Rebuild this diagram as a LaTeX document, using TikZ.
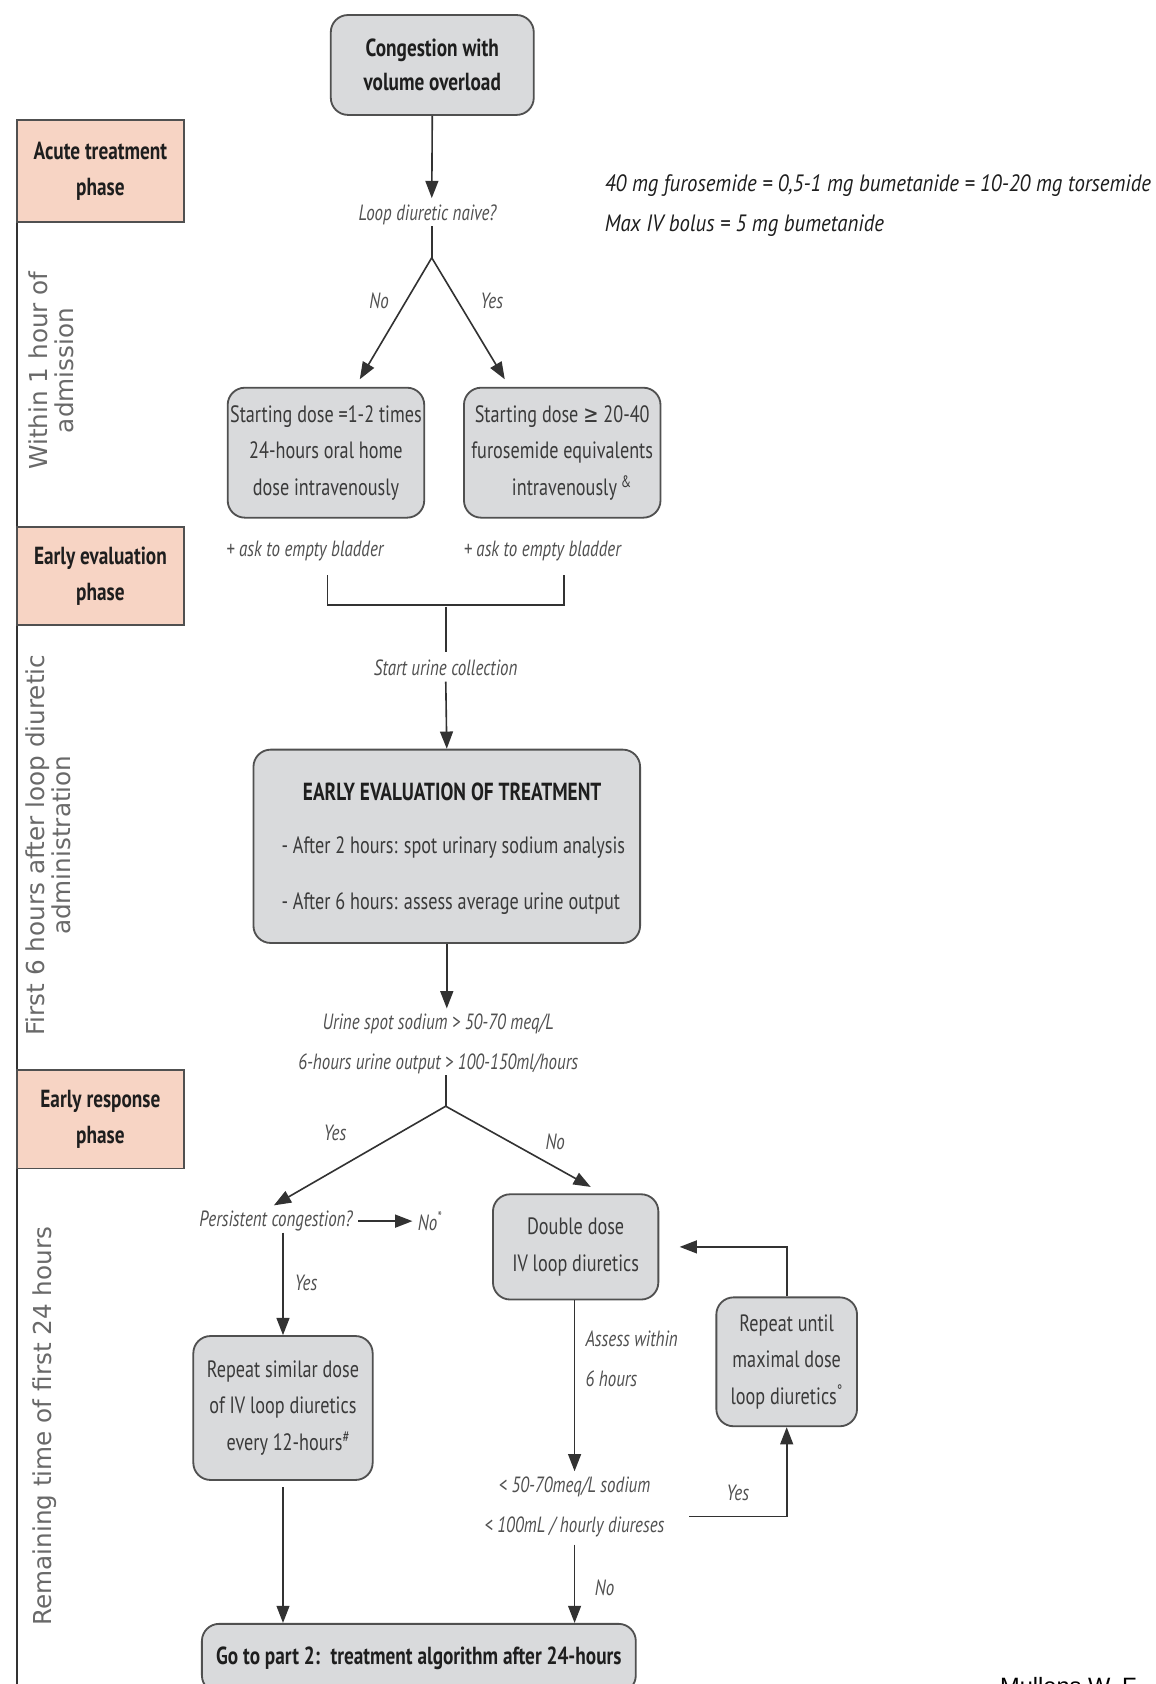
\documentclass[tikz,border=0pt]{standalone}
\usepackage{fontspec}
\usetikzlibrary{arrows.meta}
\newfontfamily\cond[FakeStretch=0.77]{PT Sans}
\newfontfamily\condb[FakeStretch=0.78]{PT Sans}
\newfontfamily\notefont[FakeStretch=0.88]{PT Sans}
\newfontfamily\sidefont{DejaVu Sans}
\newfontfamily\symfont[FakeStretch=0.77]{DejaVu Sans}
\newfontfamily\credit{Liberation Sans}
\definecolor{edge}{RGB}{80,80,80}
\definecolor{boxfill}{RGB}{217,218,220}
\definecolor{peach}{RGB}{247,212,196}
\definecolor{ink}{RGB}{58,58,58}
\definecolor{dark}{RGB}{30,30,30}
\definecolor{labink}{RGB}{80,80,80}
\definecolor{sidegray}{RGB}{105,105,105}
\definecolor{lineclr}{RGB}{50,50,50}
\tikzset{
  box/.style={draw=edge, fill=boxfill, rounded corners=16pt, line width=1.7pt,
    inner sep=0pt, align=center, text=ink, font=\cond\fontsize{22}{34}\selectfont},
  boldbox/.style={box, text=dark, font=\condb\bfseries\fontsize{23}{32}\selectfont},
  phasebox/.style={draw=edge, fill=peach, line width=1.7pt, inner sep=0pt,
    minimum width=155, align=center, text=dark,
    font=\condb\bfseries\fontsize{23}{34}\selectfont},
  lab/.style={inner sep=1pt, text=labink, align=center,
    font=\cond\itshape\fontsize{20.5}{37}\selectfont},
  sidetext/.style={rotate=90, inner sep=0pt, text=sidegray, align=center,
    font=\sidefont\fontsize{23}{24}\selectfont},
  note/.style={inner sep=0pt, anchor=west, text=dark,
    font=\notefont\itshape\fontsize{22}{24}\selectfont},
  conn/.style={draw=lineclr, line width=1.5pt},
  arr/.style={conn, -{Triangle[length=16pt,width=12pt]}},
}
\begin{document}
\begin{tikzpicture}[x=1pt,y=-1pt]
\useasboundingbox[fill=white] (0,0) rectangle (1076,1568);

% ---- phase column on the left
\draw[conn, line width=2pt] (16,112) -- (16,1580);
\node[phasebox, minimum height=95] (ph1) at (93.5,159.5) {Acute treatment\\phase};
\node[phasebox, minimum height=91] (ph2) at (93.5,536.5) {Early evaluation\\phase};
\node[phasebox, minimum height=92] (ph3) at (93.5,1042) {Early response\\phase};
\node[sidetext] (t1) at (48,345) {Within 1 hour of\\admission};
\node[sidetext] (t2) at (45,787) {First 6 hours after loop diuretic\\administration};
\node[sidetext] (t3) at (42,1328) {Remaining time of first 24 hours};

% ---- dose equivalence note
\node[note] (eq1) at (563,173) {40 mg furosemide = 0,5-1 mg bumetanide = 10-20 mg torsemide};
\node[note] (eq2) at (563,210) {Max IV bolus = 5 mg bumetanide};

% ---- acute treatment
\node[boldbox, minimum width=189, minimum height=93] (cong) at (402.5,60.5) {Congestion with\\volume overload};
\node[lab] (naive) at (398,200) {Loop diuretic naive?};
\coordinate (b1) at (402,240);
\node[box, minimum width=183, minimum height=121] (startL) at (303.5,421.5)
  {Starting dose =1-2 times\\24-hours oral home\\dose intravenously};
\node[box, minimum width=183, minimum height=121] (startR) at (523.5,421.5)
  {Starting dose {\symfont ≥} 20-40\\furosemide equivalents\\\hspace*{18pt}intravenously\,\textsuperscript{\&}};
\node[lab] at (353,280) {No};
\node[lab] at (458,280) {Yes};

\draw[arr, shorten >=5pt] (cong.south) -- ([xshift=4pt]naive.north);
\draw[conn] ([xshift=4pt]naive.south) -- (b1);
\draw[arr] (b1) -- ([xshift=31.5pt,yshift=7pt]startL.north);
\draw[arr] (b1) -- ([xshift=-53.5pt,yshift=7pt]startR.north);

% ---- early evaluation
\node[lab] (bladL) at (284,513) {+ ask to empty bladder};
\node[lab] (bladR) at (505,513) {+ ask to empty bladder};
\coordinate (jn) at (415,565);
\draw[conn] ([xshift=21pt,yshift=-12pt]bladL.south) |- ([xshift=20pt,yshift=-40pt]bladR.south)
  -- ([xshift=20pt,yshift=-12pt]bladR.south);
\node[lab] (urine) at (415,622) {Start urine collection};
\draw[conn, shorten >=6pt] (jn) -- (urine.north);

\node[box, minimum width=360, minimum height=180] (evalbox) at (416,788) {};
\node[inner sep=0pt, text=dark, font=\condb\bfseries\fontsize{23}{24}\selectfont] (evt) at (421,737) {EARLY EVALUATION OF TREATMENT};
\node[inner sep=0pt, anchor=west, text=ink, font=\cond\fontsize{22}{24}\selectfont] (ev1) at (262,789) {- After 2 hours: spot urinary sodium analysis};
\node[inner sep=0pt, anchor=west, text=ink, font=\cond\fontsize{22}{24}\selectfont] (ev2) at (262,841) {- After 6 hours: assess average urine output};
\draw[arr, shorten <=4pt] (urine.south) -- (evalbox.north);

\node[lab] (resp) at (408,972) {Urine spot sodium > 50-70 meq/L\\6-hours urine output > 100-150ml/hours};
\draw[arr, shorten >=4pt] (evalbox.south) -- (evalbox.south |- resp.north);

% ---- early response
\coordinate (b2) at (415,1030);
\draw[conn] (resp.south -| b2) -- (b2);
\node[lab] (persist) at (257,1137) {Persistent congestion?};
\node[lab, anchor=west] (noend) at (388,1137) {No\textsuperscript{*}};
\node[box, minimum width=154, minimum height=98] (dbl) at (536,1161) {Double dose\\IV loop diuretics};
\node[lab] at (312,1055) {Yes};
\node[lab] at (517,1063) {No};
\draw[arr] (b2) -- ([xshift=-2pt,yshift=4pt]persist.north);
\draw[arr] (b2) -- ([xshift=14pt,yshift=6pt]dbl.north);
\draw[arr, shorten <=4pt, shorten >=4pt] (persist.east) -- (noend.west);

\node[box, minimum width=167, minimum height=134] (repsim) at (263.5,1311)
  {Repeat similar dose\\of IV loop diuretics\\\hspace*{10pt}every 12-hours\textsuperscript{\#}};
\node[lab] at (285,1195) {Yes};
\draw[arr] (persist.south -| repsim.north) -- (repsim.north);

\node[lab, align=left, anchor=west] (assess) at (544,1265) {Assess within\\6 hours};
\node[lab] (crit) at (535,1403) {< 50-70meq/L sodium\\< 100mL / hourly diureses};
\draw[arr, shorten >=4pt] (dbl.south -| crit.north) -- (crit.north);

\node[box, minimum width=131, minimum height=120] (repmax) at (732.5,1268)
  {Repeat until\\maximal dose\\loop diuretics\textsuperscript{°}};
\node[lab] at (687,1390) {Yes};
\draw[arr] ([xshift=22pt,yshift=-9pt]crit.east) -| (repmax.south);
\draw[arr] (repmax.north) |- ([xshift=19pt]dbl.east);

\node[boldbox, minimum width=404, minimum height=64] (final) at (390,1544)
  {Go to part 2:\, treatment algorithm after 24-hours};
\node[lab] at (563,1478) {No};
\draw[arr, shorten <=6pt] (repsim.south) -- (repsim.south |- final.north);
\draw[arr, shorten <=6pt] (crit.south) -- (crit.south |- final.north);

% ---- source line at the foot
\node[inner sep=0pt, anchor=base west, text=black, font=\credit\fontsize{22}{26}\selectfont] (src) at (931,1578) {Mullens W. F};
\end{tikzpicture}
\end{document}
